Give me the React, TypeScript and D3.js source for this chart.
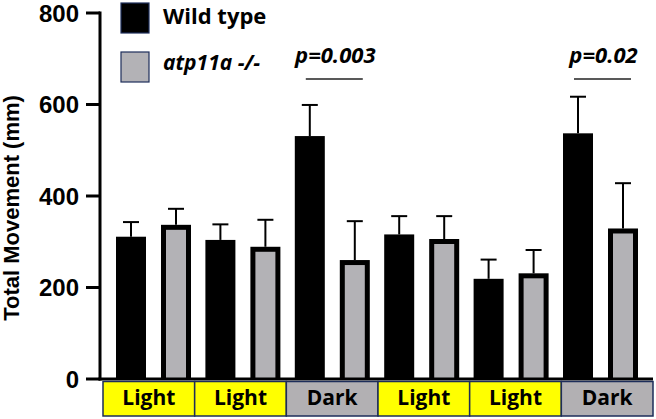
import React from "react";
import * as d3 from "d3";

const categories = ["Light", "Light", "Dark", "Light", "Light", "Dark"];
const wildType = [311, 304, 531, 316, 219, 537];
const wildTypeSD = [32, 34, 68, 40, 42, 80];
const mutant = [337, 289, 260, 306, 231, 329];
const mutantSD = [35, 59, 85, 50, 51, 99];
const yTicks = [0, 200, 400, 600, 800];
const seriesNames = ["Wild type", "atp11a -/-"];
const pGroups = [2, 5];
const pLabels = ["p=0.003", "p=0.02"];

const W = 656;
const H = 419;
const SANS = "'Liberation Sans', Arial, sans-serif";
const HUM = "'Open Sans', sans-serif";

export default function App() {
  const idx = categories.map((_, i) => i);
  const y = d3.scaleLinear().domain([0, 800]).range([379, 13]);
  const x = d3.scaleBand<number>().domain(idx).range([108.8, 645.2]).padding(0);
  const xInner = d3
    .scaleBand<string>()
    .domain(["wt", "mut"])
    .range([7.2, 82.2])
    .paddingInner(1 / 3)
    .paddingOuter(0);
  const xBox = d3.scaleBand<number>().domain(idx).range([103, 653]).padding(0);
  const bw = xInner.bandwidth();
  const border = 5;
  const gray = "#b3b2b6";
  const navy = "#1d2d5a";

  const errBar = (cx: number, v: number, sd: number, key: string) => (
    <g key={key} stroke="#000" strokeWidth={2}>
      <line x1={cx} x2={cx} y1={y(v)} y2={y(v + sd)} />
      <line x1={cx - 8} x2={cx + 8} y1={y(v + sd)} y2={y(v + sd)} />
    </g>
  );

  return (
    <svg
      width={W}
      height={H}
      style={{ position: "absolute", left: 0, top: 0, background: "#fff" }}
    >
      {/* bars */}
      {idx.map((i) => {
        const x0 = x(i)!;
        const xw = x0 + xInner("wt")!;
        const xm = x0 + xInner("mut")!;
        return (
          <g key={i}>
            {errBar(xw + bw / 2, wildType[i], wildTypeSD[i], "ew")}
            {errBar(xm + bw / 2, mutant[i], mutantSD[i], "em")}
            <rect x={xw} y={y(wildType[i])} width={bw} height={y(0) - y(wildType[i])} fill="#000" />
            <rect x={xm} y={y(mutant[i])} width={bw} height={y(0) - y(mutant[i])} fill="#000" />
            <rect
              x={xm + border}
              y={y(mutant[i]) + border}
              width={bw - 2 * border}
              height={y(0) - y(mutant[i]) - border}
              fill={gray}
            />
          </g>
        );
      })}

      {/* axes */}
      <line x1={100} x2={100} y1={y(800) - 1.5} y2={y(0) + 1.5} stroke="#000" strokeWidth={3} />
      <line x1={98.5} x2={653} y1={y(0)} y2={y(0)} stroke="#000" strokeWidth={3} />
      {yTicks.map((t) => (
        <g key={t}>
          <line x1={86} x2={100} y1={y(t)} y2={y(t)} stroke="#000" strokeWidth={3} />
          <text
            x={79}
            y={y(t)}
            dy="0.36em"
            textAnchor="end"
            fontFamily={SANS}
            fontWeight="bold"
            fontSize={24}
            fill="#000"
          >
            {t}
          </text>
        </g>
      ))}
      <text
        transform="translate(19,208) rotate(-90)"
        textAnchor="middle"
        fontFamily={SANS}
        fontWeight="bold"
        fontSize={22}
        fill="#000"
      >
        Total Movement (mm)
      </text>

      {/* category boxes */}
      {idx.map((i) => (
        <g key={"b" + i}>
          <rect
            x={xBox(i)!}
            y={381.5}
            width={xBox.bandwidth()}
            height={34.5}
            fill={categories[i] === "Light" ? "#ffff00" : "#b2b0b3"}
            stroke={navy}
            strokeWidth={1.5}
          />
          <text
            x={xBox(i)! + xBox.bandwidth() / 2}
            y={404.5}
            textAnchor="middle"
            fontFamily={HUM}
            fontWeight="bold"
            fontSize={21}
            fill="#000"
          >
            {categories[i]}
          </text>
        </g>
      ))}

      {/* legend */}
      <rect x={121} y={3} width={28} height={30} fill="#000" stroke={navy} strokeWidth={1.2} />
      <rect x={121} y={52} width={28} height={30} fill={gray} stroke={navy} strokeWidth={1.2} />
      <text x={163} y={24} fontFamily={HUM} fontWeight="bold" fontSize={22} fill="#000">
        {seriesNames[0]}
      </text>
      <text
        x={163}
        y={70}
        fontFamily={HUM}
        fontWeight="bold"
        fontStyle="italic"
        fontSize={21}
        fill="#000"
      >
        {seriesNames[1]}
      </text>

      {/* p-values */}
      {pGroups.map((g, k) => {
        const cx = x(g)! + x.bandwidth() / 2 + 2;
        return (
          <g key={"p" + k}>
            <text
              x={cx + 1}
              y={63}
              textAnchor="middle"
              fontFamily={HUM}
              fontWeight="bold"
              fontStyle="italic"
              fontSize={22}
              fill="#000"
            >
              {pLabels[k]}
            </text>
            <line x1={cx - 28.5} x2={cx + 28.5} y1={79} y2={79} stroke="#222" strokeWidth={1.5} />
          </g>
        );
      })}
    </svg>
  );
}
